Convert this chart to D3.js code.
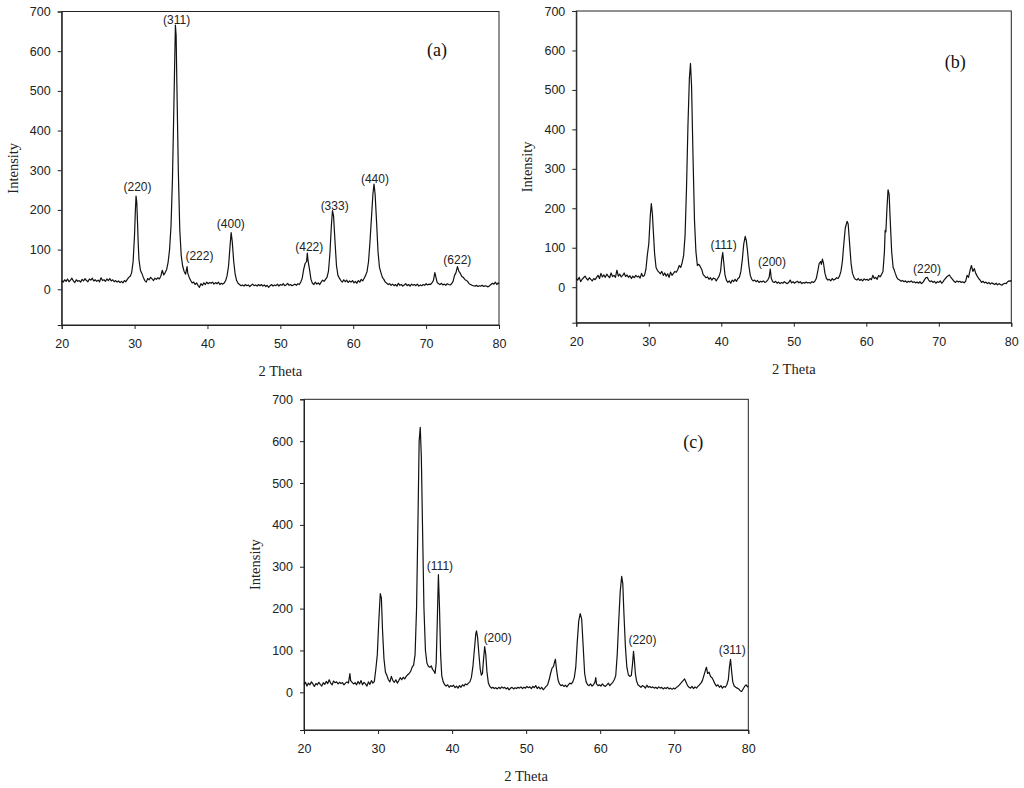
<!DOCTYPE html>
<html>
<head>
<meta charset="utf-8">
<script src="https://cdn.jsdelivr.net/npm/d3@7"></script>
<style>
	body { margin: 0; background: #fff; }
	svg { display: block; }
	.tick text { font-family: "Liberation Sans", Arial, sans-serif; font-size: 12.5px; fill: #222; }
	.title { font-family: "Liberation Serif", "Times New Roman", serif; font-size: 14.5px; fill: #222; }
	.tag { font-family: "Liberation Serif", "Times New Roman", serif; font-size: 18px; fill: #111; }
	.hkl { font-family: "Liberation Sans", Arial, sans-serif; font-size: 12px; fill: #222; }
</style>
</head>
<body>
<svg id="fig" width="1024" height="788"></svg>
<script>

// axis ticks
var xTicks = [20, 30, 40, 50, 60, 70, 80];
var yTicks = [0, 100, 200, 300, 400, 500, 600, 700];

// 2 theta / intensity
var patternA = [
	[20.0,22],[20.2,18],[20.4,24],[20.6,20],[20.8,26],[21.0,19],[21.2,23],[21.4,28],[21.6,21],[21.8,17],
	[22.0,24],[22.2,20],[22.4,22],[22.6,18],[22.8,25],[23.0,21],[23.2,27],[23.4,22],[23.6,19],[23.8,26],
	[24.0,23],[24.2,28],[24.4,21],[24.6,24],[24.8,20],[25.0,23],[25.2,19],[25.4,29],[25.6,22],[25.8,24],
	[26.0,20],[26.2,26],[26.4,22],[26.6,27],[26.8,21],[27.0,24],[27.2,19],[27.4,22],[27.6,18],[27.8,21],
	[28.0,17],[28.2,20],[28.4,16],[28.6,22],[28.8,19],[29.0,25],[29.2,30],[29.4,33],[29.6,42],[29.8,70],
	[30.0,140],[30.1,195],[30.2,235],[30.3,220],[30.4,170],[30.5,115],[30.6,75],[30.8,48],[31.0,40],[31.2,30],
	[31.4,22],[31.6,18],[31.8,27],[32.0,24],[32.2,30],[32.4,26],[32.6,22],[32.8,28],[33.0,25],[33.2,29],
	[33.4,26],[33.6,33],[33.8,48],[34.0,36],[34.2,42],[34.4,50],[34.6,68],[34.8,100],[35.0,160],[35.2,280],
	[35.4,470],[35.6,666],[35.7,640],[35.8,520],[36.0,300],[36.2,150],[36.4,85],[36.6,58],[36.8,45],[37.0,38],
	[37.2,57],[37.3,40],[37.5,30],[37.7,22],[37.9,16],[38.1,18],[38.3,12],[38.5,16],[38.7,10],[38.9,5],
	[39.1,14],[39.3,10],[39.5,16],[39.7,12],[39.9,18],[40.1,14],[40.3,17],[40.5,15],[40.7,18],[40.9,13],
	[41.1,17],[41.3,14],[41.5,18],[41.7,12],[41.9,15],[42.1,13],[42.3,16],[42.5,22],[42.7,35],[42.9,60],
	[43.1,110],[43.25,143],[43.4,120],[43.6,70],[43.8,38],[44.0,22],[44.2,15],[44.4,12],[44.6,9],[44.8,11],
	[45.0,8],[45.2,12],[45.4,9],[45.6,11],[45.8,7],[46.0,10],[46.2,13],[46.4,9],[46.6,11],[46.8,8],
	[47.0,12],[47.2,9],[47.4,12],[47.6,8],[47.8,11],[48.0,7],[48.2,10],[48.4,5],[48.6,9],[48.8,12],
	[49.0,8],[49.2,11],[49.4,9],[49.6,13],[49.8,8],[50.0,12],[50.2,10],[50.4,14],[50.6,9],[50.8,11],
	[51.0,15],[51.2,10],[51.4,12],[51.6,9],[51.8,11],[52.0,13],[52.2,10],[52.4,14],[52.6,12],[52.8,18],
	[53.0,28],[53.2,50],[53.4,65],[53.6,70],[53.7,91],[53.8,72],[54.0,50],[54.2,25],[54.4,15],[54.6,12],
	[54.8,18],[55.0,13],[55.2,16],[55.4,12],[55.6,18],[55.8,23],[56.0,20],[56.2,25],[56.4,30],[56.6,45],
	[56.8,90],[57.0,160],[57.15,198],[57.3,185],[57.5,120],[57.7,60],[57.9,35],[58.1,28],[58.3,22],[58.5,18],
	[58.7,24],[58.9,19],[59.1,23],[59.3,17],[59.5,21],[59.7,18],[59.9,22],[60.1,16],[60.3,20],[60.5,15],
	[60.7,22],[60.9,18],[61.1,25],[61.3,21],[61.5,28],[61.7,35],[61.9,45],[62.1,70],[62.3,120],[62.5,180],
	[62.7,240],[62.85,265],[63.0,240],[63.2,170],[63.4,95],[63.6,55],[63.8,42],[64.0,30],[64.2,25],[64.4,18],
	[64.6,15],[64.8,12],[65.0,14],[65.2,10],[65.4,13],[65.6,9],[65.8,12],[66.0,8],[66.2,15],[66.4,10],
	[66.6,12],[66.8,8],[67.0,11],[67.2,14],[67.4,9],[67.6,12],[67.8,8],[68.0,13],[68.2,10],[68.4,12],
	[68.6,9],[68.8,13],[69.0,8],[69.2,11],[69.4,9],[69.6,12],[69.8,10],[70.0,14],[70.2,11],[70.4,13],
	[70.6,12],[70.8,16],[71.0,22],[71.2,42],[71.35,30],[71.5,18],[71.7,14],[71.9,12],[72.1,15],[72.3,11],
	[72.5,13],[72.7,10],[72.9,14],[73.1,12],[73.3,11],[73.5,14],[73.7,20],[73.9,35],[74.1,42],[74.3,57],
	[74.5,45],[74.7,40],[74.9,32],[75.1,30],[75.3,25],[75.5,22],[75.7,20],[75.9,14],[76.1,12],[76.3,10],
	[76.5,9],[76.7,8],[76.9,10],[77.1,7],[77.3,9],[77.5,8],[77.7,10],[77.9,7],[78.1,9],[78.3,8],
	[78.5,6],[78.7,9],[78.9,12],[79.1,15],[79.3,13],[79.5,18],[79.7,12],[79.9,16],[80.0,14]
];

var patternB = [
	[20.0,22],[20.2,18],[20.4,25],[20.6,14],[20.8,20],[21.0,24],[21.2,28],[21.4,22],[21.6,18],[21.8,24],
	[22.0,20],[22.2,16],[22.4,22],[22.6,19],[22.8,25],[23.0,30],[23.2,22],[23.4,35],[23.6,26],[23.8,31],
	[24.0,25],[24.2,33],[24.4,28],[24.6,24],[24.8,36],[25.0,27],[25.2,30],[25.4,25],[25.6,43],[25.8,28],
	[26.0,33],[26.2,26],[26.4,30],[26.6,36],[26.8,27],[27.0,31],[27.2,25],[27.4,29],[27.6,22],[27.8,28],
	[28.0,24],[28.2,30],[28.4,26],[28.6,28],[28.8,23],[29.0,35],[29.2,27],[29.4,30],[29.6,45],[29.8,82],
	[30.0,110],[30.2,180],[30.35,212],[30.5,185],[30.6,150],[30.8,85],[31.0,50],[31.2,42],[31.4,38],[31.6,34],
	[31.8,40],[32.0,30],[32.2,36],[32.4,28],[32.6,34],[32.8,25],[33.0,38],[33.2,30],[33.4,35],[33.6,40],
	[33.8,38],[34.0,45],[34.2,55],[34.4,50],[34.6,62],[34.8,80],[35.0,130],[35.2,250],[35.4,410],[35.6,530],
	[35.75,567],[35.9,510],[36.1,330],[36.3,170],[36.5,90],[36.7,55],[36.9,58],[37.1,52],[37.3,45],[37.5,32],
	[37.7,28],[37.9,24],[38.1,26],[38.3,20],[38.5,24],[38.7,18],[38.9,23],[39.1,22],[39.3,16],[39.5,22],
	[39.7,28],[39.9,40],[40.05,70],[40.2,88],[40.35,60],[40.5,32],[40.7,18],[40.9,12],[41.1,16],[41.3,10],
	[41.5,18],[41.7,14],[41.9,20],[42.1,15],[42.3,22],[42.5,25],[42.7,40],[42.9,70],[43.1,110],[43.3,129],
	[43.45,118],[43.6,95],[43.8,55],[44.0,30],[44.2,20],[44.4,16],[44.6,18],[44.8,14],[45.0,17],[45.2,12],
	[45.4,15],[45.6,13],[45.8,16],[46.0,12],[46.2,14],[46.4,18],[46.6,25],[46.75,46],[46.9,22],[47.1,14],
	[47.3,12],[47.5,15],[47.7,10],[47.9,13],[48.1,9],[48.3,12],[48.5,10],[48.7,14],[48.9,11],[49.1,9],
	[49.3,12],[49.5,18],[49.7,11],[49.9,14],[50.1,10],[50.3,13],[50.5,15],[50.7,11],[50.9,14],[51.1,9],
	[51.3,12],[51.5,10],[51.7,13],[51.9,11],[52.1,12],[52.3,10],[52.5,14],[52.7,12],[52.9,15],[53.1,22],
	[53.3,40],[53.5,60],[53.7,65],[53.8,58],[53.95,71],[54.1,60],[54.3,35],[54.5,22],[54.7,18],[54.9,20],
	[55.1,16],[55.3,22],[55.5,18],[55.7,20],[55.9,24],[56.1,22],[56.3,28],[56.5,40],[56.7,65],[56.9,110],
	[57.1,150],[57.35,167],[57.5,160],[57.7,110],[57.9,60],[58.1,35],[58.3,25],[58.5,20],[58.7,18],[58.9,22],
	[59.1,17],[59.3,20],[59.5,16],[59.7,21],[59.9,18],[60.1,20],[60.3,17],[60.5,22],[60.7,19],[60.9,30],
	[61.1,22],[61.3,25],[61.5,20],[61.7,30],[61.9,26],[62.1,32],[62.3,40],[62.5,90],[62.6,144],[62.7,140],
	[62.85,200],[63.0,247],[63.15,235],[63.3,170],[63.5,90],[63.7,50],[63.8,46],[64.0,35],[64.2,25],[64.4,20],
	[64.6,18],[64.8,15],[65.0,17],[65.2,14],[65.4,16],[65.6,12],[65.8,15],[66.0,13],[66.2,16],[66.4,12],
	[66.6,14],[66.8,11],[67.0,13],[67.2,10],[67.4,14],[67.6,9],[67.8,12],[68.0,18],[68.2,24],[68.4,25],
	[68.6,18],[68.8,14],[69.0,16],[69.2,12],[69.4,15],[69.6,10],[69.8,14],[70.0,12],[70.2,16],[70.4,10],
	[70.6,14],[70.8,20],[71.0,24],[71.2,28],[71.45,31],[71.7,24],[71.9,20],[72.1,15],[72.3,12],[72.5,16],
	[72.7,13],[72.9,15],[73.1,12],[73.3,14],[73.5,11],[73.7,15],[73.9,30],[74.1,25],[74.3,42],[74.5,55],
	[74.7,40],[74.9,47],[75.1,35],[75.3,28],[75.5,22],[75.7,18],[75.9,12],[76.1,15],[76.3,11],[76.5,13],
	[76.7,9],[76.9,12],[77.1,8],[77.3,11],[77.5,9],[77.7,7],[77.9,10],[78.1,6],[78.3,9],[78.5,7],
	[78.7,5],[78.9,8],[79.1,10],[79.3,9],[79.5,14],[79.7,16],[79.9,15],[80.0,18]
];

var patternC = [
	[20.0,18],[20.2,24],[20.4,15],[20.6,22],[20.8,18],[21.0,25],[21.2,20],[21.4,14],[21.6,21],[21.8,18],
	[22.0,24],[22.2,19],[22.4,15],[22.6,23],[22.8,19],[23.0,26],[23.2,21],[23.4,30],[23.6,22],[23.8,18],
	[24.0,27],[24.2,23],[24.4,25],[24.6,20],[24.8,24],[25.0,21],[25.2,23],[25.4,18],[25.6,22],[25.8,25],
	[26.0,22],[26.2,45],[26.3,28],[26.5,24],[26.7,20],[26.9,23],[27.1,18],[27.3,26],[27.5,20],[27.7,28],
	[27.9,18],[28.1,24],[28.3,20],[28.5,15],[28.7,25],[28.9,19],[29.1,28],[29.3,22],[29.5,26],[29.7,55],
	[29.9,90],[30.1,170],[30.3,236],[30.45,225],[30.6,150],[30.8,80],[31.0,48],[31.2,40],[31.4,30],[31.6,25],
	[31.8,38],[32.0,28],[32.2,24],[32.4,30],[32.6,22],[32.8,28],[33.0,35],[33.2,30],[33.4,36],[33.6,32],
	[33.8,38],[34.0,42],[34.2,45],[34.4,50],[34.6,60],[34.8,65],[35.0,90],[35.2,200],[35.4,420],[35.55,600],
	[35.7,633],[35.85,560],[36.0,400],[36.2,200],[36.4,100],[36.6,70],[36.8,62],[37.0,60],[37.2,63],[37.35,55],
	[37.5,52],[37.7,45],[37.85,70],[38.0,170],[38.15,281],[38.3,200],[38.45,90],[38.6,40],[38.8,25],[39.0,18],
	[39.2,15],[39.4,18],[39.6,12],[39.8,16],[40.0,14],[40.2,17],[40.4,11],[40.6,15],[40.8,10],[41.0,16],
	[41.2,12],[41.4,18],[41.6,15],[41.8,20],[42.0,18],[42.2,22],[42.4,25],[42.6,35],[42.8,60],[43.0,100],
	[43.2,140],[43.3,147],[43.45,130],[43.6,95],[43.8,55],[43.95,41],[44.1,45],[44.25,80],[44.4,109],[44.55,90],
	[44.7,50],[44.9,22],[45.1,14],[45.3,10],[45.5,12],[45.7,9],[45.9,11],[46.1,8],[46.3,12],[46.5,9],
	[46.7,13],[46.9,10],[47.1,12],[47.3,8],[47.5,11],[47.7,6],[47.9,10],[48.1,12],[48.3,8],[48.5,11],
	[48.7,9],[48.9,12],[49.1,10],[49.3,13],[49.5,9],[49.7,12],[49.9,10],[50.1,14],[50.3,11],[50.5,13],
	[50.7,9],[50.9,14],[51.1,11],[51.3,16],[51.5,9],[51.7,13],[51.9,8],[52.1,12],[52.3,6],[52.5,10],
	[52.7,14],[52.9,18],[53.1,30],[53.3,45],[53.5,58],[53.7,62],[53.8,70],[53.95,79],[54.1,55],[54.3,30],
	[54.5,20],[54.7,16],[54.9,18],[55.1,14],[55.3,17],[55.5,13],[55.7,18],[55.9,22],[56.1,20],[56.3,25],
	[56.5,35],[56.7,60],[56.9,120],[57.1,170],[57.3,188],[57.5,175],[57.7,110],[57.9,45],[58.1,25],[58.3,18],
	[58.5,16],[58.7,20],[58.9,15],[59.1,18],[59.3,25],[59.4,35],[59.5,20],[59.7,16],[59.9,18],[60.1,15],
	[60.3,20],[60.5,16],[60.7,14],[60.9,18],[61.1,22],[61.3,16],[61.5,20],[61.7,24],[61.9,30],[62.1,40],
	[62.3,90],[62.5,170],[62.7,240],[62.9,277],[63.05,260],[63.2,190],[63.4,110],[63.6,60],[63.8,42],[64.0,38],
	[64.2,40],[64.35,65],[64.5,98],[64.6,80],[64.75,45],[64.9,28],[65.1,18],[65.3,15],[65.5,12],[65.7,16],
	[65.9,14],[66.1,10],[66.3,17],[66.5,12],[66.7,14],[66.9,11],[67.1,13],[67.3,10],[67.5,12],[67.7,9],
	[67.9,13],[68.1,10],[68.3,12],[68.5,8],[68.7,11],[68.9,9],[69.1,12],[69.3,8],[69.5,10],[69.7,7],
	[69.9,10],[70.1,8],[70.3,12],[70.5,14],[70.7,18],[70.9,22],[71.1,26],[71.4,32],[71.6,24],[71.8,16],
	[72.0,12],[72.2,10],[72.4,14],[72.6,9],[72.8,13],[73.0,10],[73.2,14],[73.4,18],[73.6,22],[73.8,28],
	[74.0,40],[74.2,52],[74.35,60],[74.5,45],[74.7,48],[74.9,38],[75.1,35],[75.3,28],[75.5,20],[75.7,15],
	[75.9,18],[76.1,12],[76.3,16],[76.5,10],[76.7,14],[76.9,12],[77.1,18],[77.3,30],[77.45,60],[77.6,79],
	[77.75,50],[77.9,25],[78.1,15],[78.3,12],[78.5,10],[78.7,8],[78.9,4],[79.1,2],[79.3,8],[79.5,14],
	[79.7,18],[79.9,13],[80.0,15]
];

// peak labels: text, 2 theta of label centre, intensity of label centre
var hklA = [["(220)",30.4,257],["(311)",35.77,680],["(222)",38.9,84],["(400)",43.2,164],
	["(422)",53.97,108],["(333)",57.45,210],["(440)",62.98,278],["(622)",74.28,74]];
var hklB = [["(111)",40.32,108],["(200)",46.99,65],["(220)",68.37,46]];
var hklC = [["(111)",38.36,302],["(200)",46.15,131],["(220)",65.7,126],["(311)",77.83,102]];

var xrdPanel = function(){
	
	var left, right, top, bottom;
	var tag, tagX, tagY;
	var labels;
	
	function chart(selection){
		
		selection.each(function(data){
			
			var g = d3.select(this);
			
			var x = d3.scaleLinear().domain([20, 80]).range([left, right]);
			var y = d3.scaleLinear().domain([-90, 700]).range([bottom, top]);
			
			g.append("rect")
			.attr("x", left).attr("y", top)
			.attr("width", right - left).attr("height", bottom - top)
			.attr("fill", "none")
			.attr("stroke", "#222")
			.attr("stroke-width", 1);
			
			g.append("g")
			.attr("transform", "translate(0," + bottom + ")")
			.call(d3.axisBottom(x).tickValues(xTicks).tickSize(4).tickPadding(10));
			
			g.append("g")
			.attr("transform", "translate(" + left + ",0)")
			.call(d3.axisLeft(y).tickValues(yTicks).tickSize(4).tickPadding(7));
			
			g.selectAll(".domain").attr("stroke", "#222");
			g.selectAll(".tick line").attr("stroke", "#222");
			
			var line = d3.line()
			.x(function(d){ return x(d[0]); })
			.y(function(d){ return y(d[1]); });
			
			g.append("path")
			.datum(data)
			.attr("d", line)
			.attr("fill", "none")
			.attr("stroke", "#111")
			.attr("stroke-width", 1.2)
			.attr("stroke-linejoin", "round");
			
			g.selectAll("text.hkl")
			.data(labels)
			.enter()
			.append("text")
			.attr("class", "hkl")
			.attr("x", function(d){ return x(d[1]); })
			.attr("y", function(d){ return y(d[2]); })
			.attr("dy", "0.35em")
			.attr("text-anchor", "middle")
			.text(function(d){ return d[0]; });
			
			g.append("text")
			.attr("class", "tag")
			.attr("x", right - tagX)
			.attr("y", top + tagY)
			.attr("dy", "0.35em")
			.attr("text-anchor", "middle")
			.text(tag);
			
			g.append("text")
			.attr("class", "title")
			.attr("x", (left + right) / 2)
			.attr("y", bottom + 46)
			.attr("dy", "0.35em")
			.attr("text-anchor", "middle")
			.text("2 Theta");
			
			g.append("text")
			.attr("class", "title")
			.attr("transform", "translate(" + (left - 49) + "," + ((top + bottom) / 2) + ") rotate(-90)")
			.attr("dy", "0.35em")
			.attr("text-anchor", "middle")
			.text("Intensity");
		});
	}
	
	chart.frame = function(l, r, t, b){
		left = l; right = r; top = t; bottom = b;
		return this;
	}
	
	chart.tag = function(value, dx, dy){
		tag = value; tagX = dx; tagY = dy;
		return this;
	}
	
	chart.labels = function(value){
		if(!arguments.length) return labels;
		
		labels = value;
		return this;
	}
	
	return chart;
}

var svg = d3.select("#fig");

svg.append("g").datum(patternA)
.call(xrdPanel().frame(61.7, 499, 11.5, 325).tag("(a)", 62, 38).labels(hklA));

svg.append("g").datum(patternB)
.call(xrdPanel().frame(576.3, 1011.3, 11, 322.7).tag("(b)", 56, 51).labels(hklB));

svg.append("g").datum(patternC)
.call(xrdPanel().frame(304, 748.3, 399.3, 730).tag("(c)", 55, 42).labels(hklC));

</script>
</body>
</html>
